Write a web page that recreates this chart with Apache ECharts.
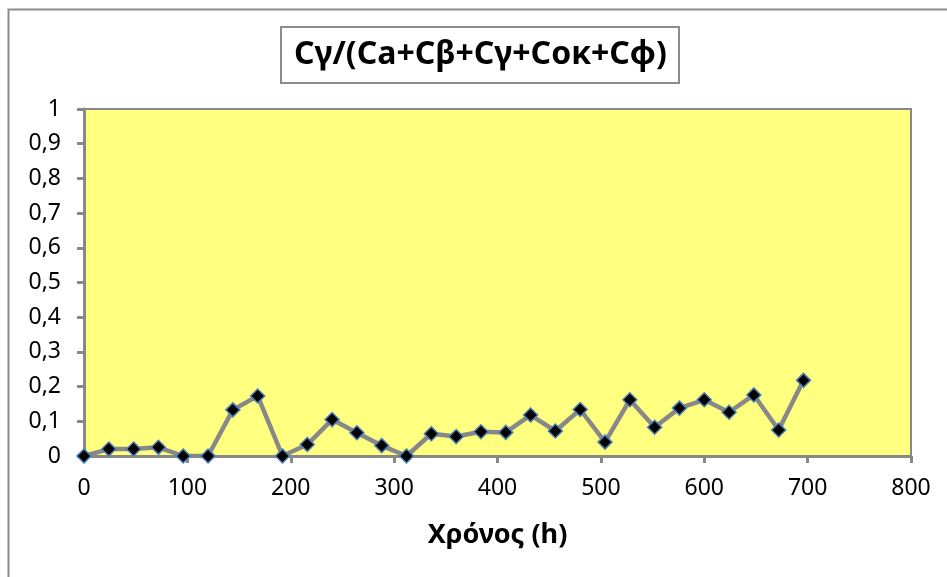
<!DOCTYPE html>
<html>
<head>
<meta charset="utf-8">
<script src="https://cdn.jsdelivr.net/npm/echarts@6/dist/echarts.min.js"></script>
<style>
  html, body { margin: 0; padding: 0; background: #fff; }
  #chart { width: 947px; height: 577px; }
</style>
</head>
<body>
<div id="chart"></div>
<script>
// time in hours
const hours = [0, 24, 48, 72, 96, 120, 144, 168, 192, 216, 240, 264, 288, 312, 336,
	360, 384, 408, 432, 456, 480, 504, 528, 552, 576, 600, 624, 648, 672, 696]
// ratio Cγ / total
const ratio = [0, 0.02, 0.02, 0.025, 0, 0, 0.133, 0.173, 0, 0.033, 0.105, 0.067, 0.03, 0, 0.064,
	0.056, 0.07, 0.068, 0.118, 0.072, 0.134, 0.04, 0.162, 0.083, 0.138, 0.162, 0.126, 0.176, 0.075, 0.218]
const xTicks = [0, 100, 200, 300, 400, 500, 600, 700, 800]
const yTicks = [0, 0.1, 0.2, 0.3, 0.4, 0.5, 0.6, 0.7, 0.8, 0.9, 1]

const font = '"Noto Sans", "Open Sans", sans-serif'
const axisGrey = '#888888'

let chart = echarts.init(document.getElementById('chart'))
let option = {
	backgroundColor: '#fff',
	textStyle: { fontFamily: font },
	title: {
		text: 'Cγ/(Ca+Cβ+Cγ+Coκ+Cφ)',
		left: 281,
		top: 27,
		padding: [9, 13, 9, 13],
		borderColor: '#8c8c8c',
		borderWidth: 2,
		textStyle: {
			fontFamily: font,
			fontSize: 32,
			lineHeight: 38,
			fontWeight: 'bold',
			color: '#000',
		},
	},
	graphic: [
		{
			// outer chart frame
			type: 'rect',
			shape: { x: 8.5, y: 9.5, width: 960, height: 600 },
			style: { fill: 'none', stroke: '#8c8c8c', lineWidth: 2 },
			silent: true,
		},
	],
	grid: {
		left: 84,
		right: 36,
		top: 109,
		bottom: 121,
		show: true,
		backgroundColor: '#ffff80',
		borderColor: axisGrey,
		borderWidth: 2,
	},
	xAxis: {
		type: 'value',
		min: xTicks[0],
		max: xTicks[xTicks.length - 1],
		interval: 100,
		name: 'Χρόνος (h)',
		nameLocation: 'middle',
		nameGap: 66,
		nameTextStyle: {
			fontFamily: font,
			fontSize: 27,
			fontWeight: 'bold',
			color: '#000',
		},
		axisLine: { show: true, lineStyle: { color: axisGrey, width: 3 } },
		axisTick: { show: true, length: 7, lineStyle: { color: axisGrey, width: 3 } },
		axisLabel: { fontSize: 23, color: '#000', margin: 21 },
		splitLine: { show: false },
	},
	yAxis: {
		type: 'value',
		min: yTicks[0],
		max: yTicks[yTicks.length - 1],
		interval: 0.1,
		axisLine: { show: true, lineStyle: { color: axisGrey, width: 3 } },
		axisTick: { show: true, length: 7, lineStyle: { color: axisGrey, width: 3 } },
		axisLabel: {
			fontSize: 23,
			color: '#000',
			margin: 23,
			formatter: (v) => String(Math.round(v * 10) / 10).replace('.', ','),
		},
		splitLine: { show: false },
	},
	series: [
		{
			type: 'line',
			data: hours.map((h, i) => [h, ratio[i]]),
			symbol: 'diamond',
			symbolSize: 14,
			lineStyle: { color: axisGrey, width: 4.5 },
			itemStyle: { color: '#000', borderColor: '#4a7ebb', borderWidth: 1.5 },
			animation: false,
			z: 3,
		},
	],
}
chart.setOption(option)
</script>
</body>
</html>
